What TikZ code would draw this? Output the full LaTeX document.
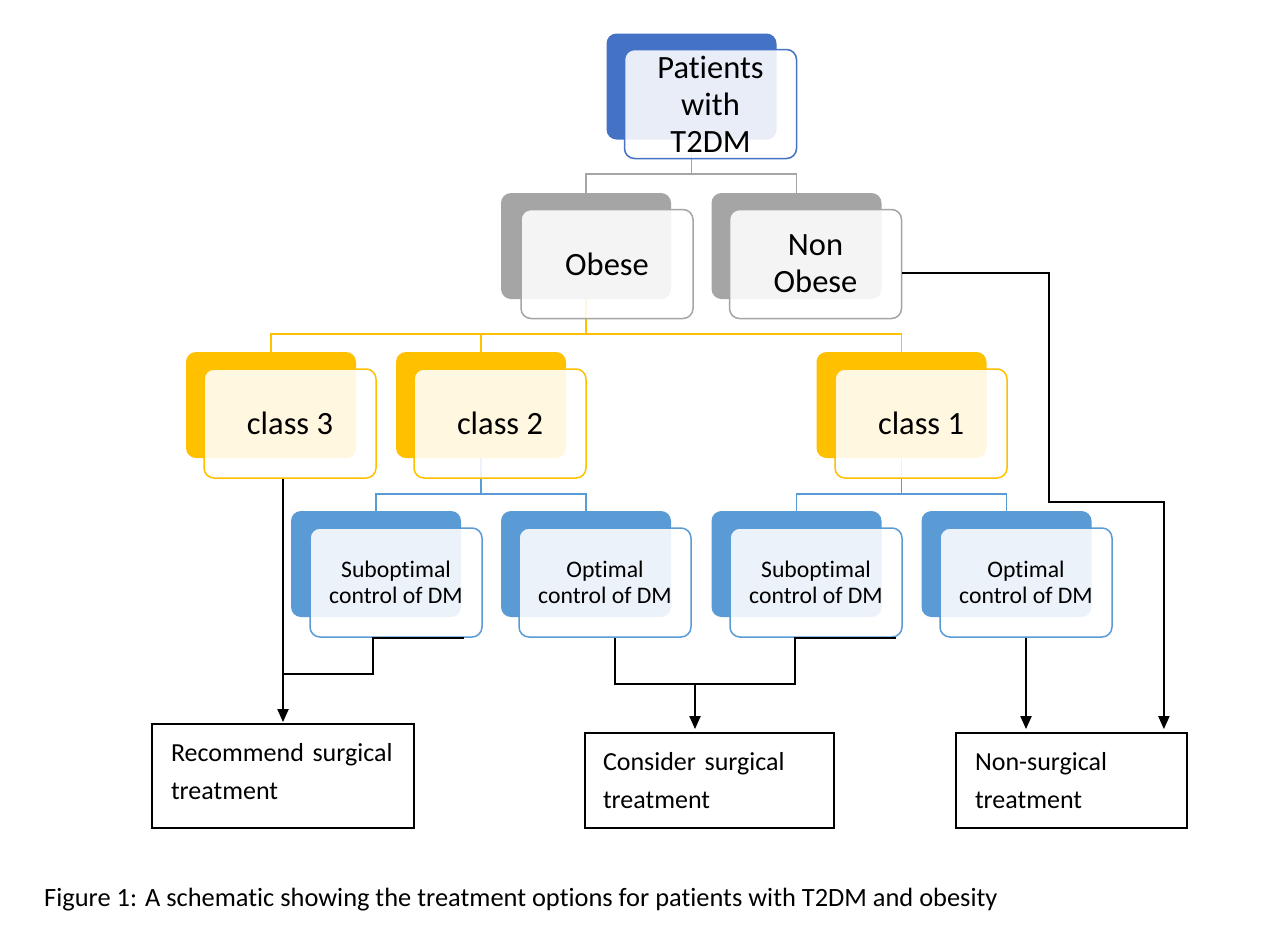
\documentclass[tikz,border=0pt]{standalone}
\usepackage{fontspec}
\setmainfont{Carlito}[Ligatures={NoCommon}]
\usetikzlibrary{calc,arrows.meta}
\definecolor{cblue}{HTML}{4472C4}
\definecolor{cgray}{HTML}{A5A5A5}
\definecolor{cyel}{HTML}{FFC000}
\definecolor{cdm}{HTML}{5B9BD5}
\begin{document}
\begin{tikzpicture}[x=1pt,y=-1pt,
  backbox/.style={rectangle, rounded corners=10pt, minimum width=170pt, minimum height=106pt, inner sep=0pt, fill=#1, draw=none},
  frontbox/.style={rectangle, rounded corners=10pt, minimum width=172pt, minimum height=109pt, inner sep=0pt, draw=#1, line width=1.5pt, fill=white, fill opacity=0.88, text opacity=1, align=center},
  bigtxt/.style={font=\fontsize{32.5}{37}\selectfont},
  smalltxt/.style={font=\fontsize{23.7}{26}\selectfont},
  conn/.style={draw=#1, line width=1.8pt},
  blk/.style={draw=black, line width=2pt},
  arr/.style={blk, -{Triangle[width=11pt,length=13pt]}},
  outbox/.style={rectangle, draw=black, line width=1.8pt, inner ysep=0pt, align=left, font=\fontsize{26}{38}\selectfont},
]
\useasboundingbox (0,0) rectangle (1266,943);
\fill[white] (0,0) rectangle (1266,943);

% back boxes
\node[backbox=cblue] (tb) at (691.5,86.5) {};
\node[backbox=cgray] (ob) at (586,246) {};
\node[backbox=cgray] (nb) at (796.5,246) {};
\node[backbox=cyel] (c3b) at (271,405) {};
\node[backbox=cyel] (c2b) at (481,405) {};
\node[backbox=cyel] (c1b) at (901.5,405) {};
\node[backbox=cdm] (s1b) at (376,564) {};
\node[backbox=cdm] (o1b) at (586,564) {};
\node[backbox=cdm] (s2b) at (796.5,564) {};
\node[backbox=cdm] (o2b) at (1006.5,564) {};

% coloured connectors
\coordinate (g1) at ($(tb.south)+(0,34.5)$);
\draw[conn=cgray] (tb.south) -- (g1);
\draw[conn=cgray] (ob.north) |- (g1) -| (nb.north);
\coordinate (y1) at ($(ob.south)+(0,35)$);
\draw[conn=cyel] (ob.south) -- (y1);
\draw[conn=cyel] (c3b.north) |- (y1) -| (c1b.north);
\draw[conn=cyel] (c2b.north) -- (c2b.north |- y1);
\coordinate (b1) at ($(c2b.south)+(0,36)$);
\draw[conn=cdm] (c2b.south) -- (b1);
\draw[conn=cdm] (s1b.north) |- (b1) -| (o1b.north);
\coordinate (b2) at ($(c1b.south)+(0,36)$);
\draw[conn=cdm] (c1b.south) -- (b2);
\draw[conn=cdm] (s2b.north) |- (b2) -| (o2b.north);

% front boxes
\node[frontbox=cblue, bigtxt] (tf) at (710.5,104) {Patients\\with\\T2DM};
\node[frontbox=cgray, bigtxt] (of) at (607,264) {Obese};
\node[frontbox=cgray, bigtxt] (nf) at (815.5,264) {Non\\Obese};
\node[frontbox=cyel, bigtxt] (c3f) at (290,423.5) {class 3};
\node[frontbox=cyel, bigtxt] (c2f) at (500,423.5) {class 2};
\node[frontbox=cyel, bigtxt] (c1f) at (921,423.5) {class 1};
\node[frontbox=cdm, smalltxt] (s1f) at (396,582.5) {Suboptimal\\control of DM};
\node[frontbox=cdm, smalltxt] (o1f) at (605,582.5) {Optimal\\control of DM};
\node[frontbox=cdm, smalltxt] (s2f) at (816,582.5) {Suboptimal\\control of DM};
\node[frontbox=cdm, smalltxt] (o2f) at (1026,582.5) {Optimal\\control of DM};

% outcome boxes
\node[outbox, inner xsep=19pt, text width=224pt, minimum height=104pt, text depth=48pt] (rec) at (283,776) {Recommend surgical\\treatment};
\node[outbox, inner xsep=18pt, text width=213pt, minimum height=95pt] (con) at (709.5,780.5) {Consider surgical\\treatment};
\node[outbox, inner xsep=19pt, text width=193pt, minimum height=95pt] (ns) at (1071.5,780.5) {Non-surgical\\treatment};

% black connectors
\draw[arr] (rec.north |- c3f.south) -- ($(rec.north)+(0,-1)$);
\coordinate (j1) at ($(s1f.south)+(-23,36)$);
\draw[blk] ($(s1f.south east)+(-19,0)$) -- ($(s1f.south)+(-23,0)$) -- (j1) -- (j1 -| rec.north);
\coordinate (j2) at ($(o1f.south)+(10,46)$);
\coordinate (j3) at ($(s2f.south)+(-21,46)$);
\draw[blk] ($(s2f.south east)+(-7,0)$) -- ($(s2f.south)+(-21,0)$) -- (j3) -- (j2) -- ($(o1f.south)+(10,0)$);
\coordinate (c1) at ($(con.north)+(-14.5,-3)$);
\draw[arr] (c1 |- j2) -- (c1);
\draw[arr] (o2f.south) -- ($(o2f.south |- ns.north)+(0,-3)$);
\coordinate (k1) at (1049,502);
\coordinate (k2) at ($(ns.north east)+(-24,-3)$);
\draw[arr] ($(nf.east)+(0,9)$) -| (k1) -| (k2);

% caption
\node[anchor=west, inner sep=0pt, font=\fontsize{26.4}{30}\selectfont] (cap) at (44,900) {Figure 1: A schematic showing the treatment options for patients with T2DM and obesity};
\end{tikzpicture}
\end{document}
